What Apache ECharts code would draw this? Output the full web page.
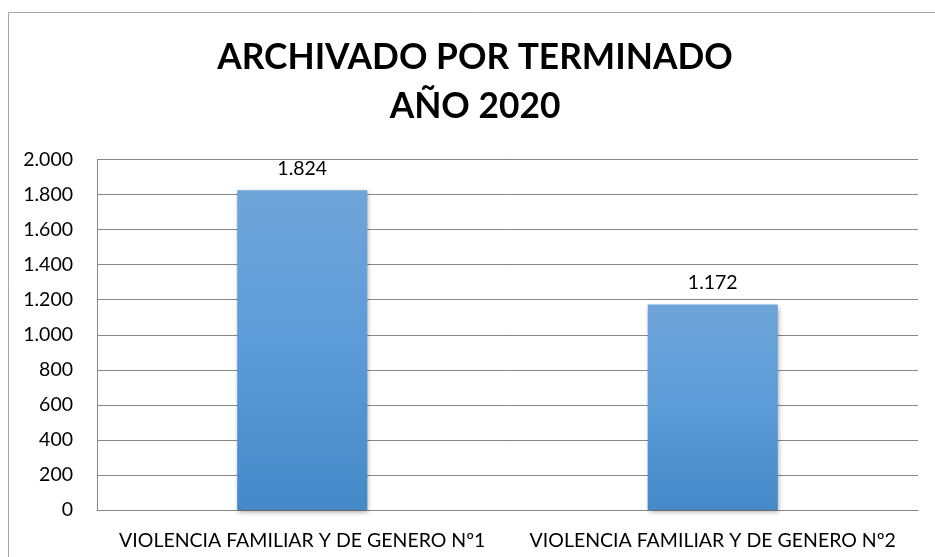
<!DOCTYPE html>
<html>
<head>
<meta charset="utf-8">
<script src="https://cdn.jsdelivr.net/npm/echarts@6/dist/echarts.min.js"></script>
<style>
  html, body { margin: 0; padding: 0; background: #fff; }
  #chart { width: 935px; height: 557px; }
</style>
</head>
<body>
<div id="chart"></div>
<script>
const categories = ['VIOLENCIA FAMILIAR Y DE GENERO Nº1', 'VIOLENCIA FAMILIAR Y DE GENERO Nº2']
const values = [1824, 1172]
const yMin = 0
const yMax = 2000
const yStep = 200

const fmt = v => String(v).replace(/\B(?=(\d{3})+(?!\d))/g, '.')
const font = 'Lato, "Noto Sans", sans-serif'

const chart = echarts.init(document.getElementById('chart'), null, { renderer: 'canvas' })

chart.setOption({
  animation: false,
  backgroundColor: '#fff',
  graphic: [{
    type: 'rect',
    shape: { x: 8.5, y: 12.5, width: 1000, height: 600 },
    style: { fill: 'none', stroke: '#a6a6a6', lineWidth: 1 },
    silent: true
  }, {
    // chart title, centred on the chart box (which runs past the right edge)
    type: 'text',
    x: 475,
    y: 33,
    silent: true,
    style: {
      text: 'ARCHIVADO POR TERMINADO\nAÑO 2020',
      align: 'center',
      verticalAlign: 'top',
      fontFamily: font,
      fontWeight: 'bold',
      fontSize: 35.3,
      lineHeight: 49,
      fill: '#000'
    }
  }],
  grid: { left: 97, right: 17, top: 159.5, bottom: 47, containLabel: false },
  xAxis: {
    type: 'category',
    data: categories,
    axisLine: { lineStyle: { color: '#868686' } },
    axisTick: { show: false },
    axisLabel: { interval: 0, color: '#000', fontFamily: font, fontSize: 19.5, margin: 21 }
  },
  yAxis: {
    type: 'value',
    min: yMin,
    max: yMax,
    interval: yStep,
    axisLine: { show: true, lineStyle: { color: '#868686' } },
    axisTick: { show: false },
    splitLine: { lineStyle: { color: '#868686', width: 1 } },
    axisLabel: { color: '#000', fontFamily: font, fontSize: 19.5, margin: 24, formatter: fmt }
  },
  series: [{
    type: 'bar',
    data: values,
    barWidth: '31.7%',
    itemStyle: {
      color: new echarts.graphic.LinearGradient(0, 0, 0, 1, [
        { offset: 0, color: '#6fa5d9' },
        { offset: 0.5, color: '#5b9bd8' },
        { offset: 1, color: '#4589c8' }
      ]),
      shadowColor: 'rgba(0,0,0,0.35)',
      shadowBlur: 5,
      shadowOffsetX: 1,
      shadowOffsetY: 2
    },
    label: {
      show: true,
      position: 'top',
      distance: 12,
      color: '#000',
      fontFamily: font,
      fontSize: 19.5,
      formatter: p => fmt(p.value)
    }
  }]
})
</script>
</body>
</html>
